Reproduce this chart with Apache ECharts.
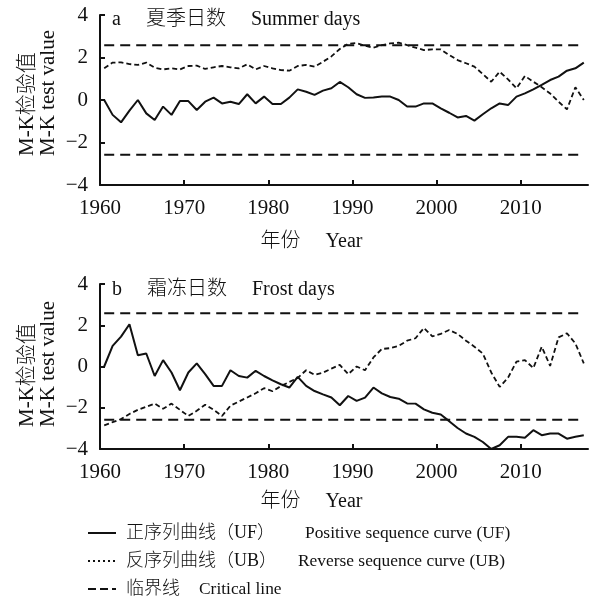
<!DOCTYPE html>
<html><head><meta charset="utf-8">
<script src="https://cdn.jsdelivr.net/npm/echarts@6/dist/echarts.min.js"></script>
<style>html,body{margin:0;padding:0;background:#fff}#c{width:609px;height:607px}</style>
</head><body><div id="c"></div>
<script>
const years = [1960,1961,1962,1963,1964,1965,1966,1967,1968,1969,
  1970,1971,1972,1973,1974,1975,1976,1977,1978,1979,
  1980,1981,1982,1983,1984,1985,1986,1987,1988,1989,
  1990,1991,1992,1993,1994,1995,1996,1997,1998,1999,
  2000,2001,2002,2003,2004,2005,2006,2007,2008,2009,
  2010,2011,2012,2013,2014,2015,2016,2017];
const summerUF = [0,-0.7,-1.05,-0.5,0,-0.63,-0.94,-0.31,-0.7,-0.05,
  -0.05,-0.47,-0.08,0.11,-0.16,-0.08,-0.19,0.27,-0.16,0.16,
  -0.19,-0.19,0.11,0.5,0.39,0.24,0.44,0.55,0.85,0.6,
  0.27,0.1,0.12,0.16,0.16,0,-0.31,-0.31,-0.16,-0.16,
  -0.39,-0.6,-0.82,-0.75,-0.97,-0.67,-0.39,-0.16,-0.24,0.16,
  0.31,0.5,0.71,0.94,1.1,1.38,1.49,1.76];
const summerUB = [1.49,1.76,1.77,1.69,1.65,1.76,1.52,1.44,1.49,1.44,
  1.6,1.62,1.46,1.54,1.6,1.54,1.49,1.68,1.44,1.6,
  1.49,1.41,1.38,1.6,1.65,1.57,1.8,2.05,2.4,2.65,
  2.68,2.55,2.46,2.58,2.66,2.7,2.58,2.46,2.35,2.38,
  2.38,2.12,1.88,1.73,1.57,1.22,0.86,1.33,0.97,0.55,
  1.13,0.86,0.6,0.31,-0.08,-0.44,0.6,0];
const frostUF = [0,1.0,1.45,2.05,0.55,0.63,-0.46,0.31,-0.29,-1.15,
  -0.29,0.15,-0.37,-0.94,-0.94,-0.18,-0.46,-0.54,-0.21,-0.46,
  -0.67,-0.86,-1.02,-0.5,-0.94,-1.19,-1.35,-1.5,-1.88,-1.43,
  -1.67,-1.51,-1.02,-1.3,-1.48,-1.56,-1.79,-1.8,-2.08,-2.24,
  -2.33,-2.65,-2.98,-3.25,-3.41,-3.66,-4.0,-3.82,-3.41,-3.41,
  -3.46,-3.09,-3.33,-3.25,-3.25,-3.5,-3.41,-3.33];
const frostUB = [-2.85,-2.7,-2.55,-2.3,-2.1,-1.95,-1.8,-2.05,-1.8,-2.1,
  -2.4,-2.15,-1.85,-2.1,-2.4,-1.9,-1.7,-1.5,-1.3,-1.05,
  -1.2,-0.95,-0.75,-0.55,-0.18,-0.4,-0.3,-0.1,0.08,-0.37,
  0,-0.18,0.44,0.85,0.89,1.0,1.25,1.37,1.87,1.46,
  1.58,1.77,1.58,1.25,0.96,0.63,-0.29,-0.99,-0.54,0.24,
  0.31,-0.08,0.96,0.03,1.41,1.61,1.12,0.15];
const critical = [2.58, -2.58];
const panelTitles = ['a\u3000 夏季日数\u3000 Summer days', 'b\u3000 霜冻日数\u3000 Frost days'];
const xName = '年份\u3000 Year';
const yNames = ['M-K检验值', 'M-K test value'];
const legendZh = {UF: '正序列曲线（UF）', UB: '反序列曲线（UB）', CL: '临界线'};
const legendEn = {UF: 'Positive sequence curve (UF)', UB: 'Reverse sequence curve (UB)', CL: 'Critical line'};
// each annual value is plotted at the middle of its year
const MID_YEAR = 0.5;

const FF = '"Liberation Serif", "Noto Sans CJK SC", serif';
const BLACK = '#111';
const grids = [
  {left: 100, top: 15, width: 488, height: 170},
  {left: 100, top: 284, width: 488, height: 165}
];
function xAxis(i, gap) {
  return {
    type: 'value', gridIndex: i, min: 1960, max: 2018, interval: 10,
    axisLine: {show: true, onZero: false, lineStyle: {color: BLACK, width: 2}},
    axisTick: {show: true, inside: true, length: 5, lineStyle: {color: BLACK, width: 2}},
    axisLabel: {color: BLACK, fontSize: 21, fontFamily: FF, margin: 13, showMaxLabel: false,
      formatter: v => String(v)},
    splitLine: {show: false},
    name: xName, nameLocation: 'middle', nameGap: gap,
    nameTextStyle: {color: BLACK, fontSize: 20, fontWeight: 300, fontFamily: FF, padding: [0, 65, 0, 0]}
  };
}
function yAxis(i) {
  return {
    type: 'value', gridIndex: i, min: -4, max: 4, interval: 2,
    axisLine: {show: true, onZero: false, lineStyle: {color: BLACK, width: 2}},
    axisTick: {show: true, inside: true, length: 5, lineStyle: {color: BLACK, width: 2}},
    axisLabel: {color: BLACK, fontSize: 21, fontFamily: FF, margin: 12,
      formatter: v => String(v).replace('-', '\u2212')},
    splitLine: {show: false}
  };
}
function pairs(vals) { return years.map((y, k) => [y + MID_YEAR, vals[k]]); }
function lineSeries(name, i, vals, type, width) {
  return {
    name: name, type: 'line', xAxisIndex: i, yAxisIndex: i, data: pairs(vals),
    symbol: 'none', silent: true, animation: false,
    lineStyle: {color: BLACK, width: width, type: type}
  };
}
function critSeries(i, c) {
  return {
    name: 'CL', type: 'line', xAxisIndex: i, yAxisIndex: i,
    data: [[years[0] + MID_YEAR, c], [years[years.length - 1] + MID_YEAR, c]],
    symbol: 'none', silent: true, animation: false,
    lineStyle: {color: BLACK, width: 2, type: [10, 6]}
  };
}
const series = [];
[[summerUF, summerUB], [frostUF, frostUB]].forEach((d, i) => {
  series.push(critSeries(i, critical[0]));
  series.push(critSeries(i, critical[1]));
  series.push(lineSeries('UB', i, d[1], [5, 3], 1.8));
  series.push(lineSeries('UF', i, d[0], 'solid', 2));
});

const graphic = [];
[[21, 156], [291, 427]].forEach((p, i) => {
  graphic.push({type: 'text', left: 112, top: p[0] - 11,
    style: {text: panelTitles[i], font: '300 20px ' + FF, fill: BLACK}});
  graphic.push({type: 'text', x: 27, y: p[1], rotation: Math.PI / 2,
    style: {text: yNames[0], font: '300 21px ' + FF, fill: BLACK, align: 'left', verticalAlign: 'middle'}});
  graphic.push({type: 'text', x: 48, y: p[1], rotation: Math.PI / 2,
    style: {text: yNames[1], font: '300 21px ' + FF, fill: BLACK, align: 'left', verticalAlign: 'middle'}});
});

const zhBase = {fontSize: 18, fontWeight: 300, fontFamily: FF, color: BLACK, padding: [0, 0, 0, 5]};
const chart = echarts.init(document.getElementById('c'), null, {renderer: 'canvas'});
chart.setOption({
  animation: false,
  backgroundColor: '#fff',
  grid: grids,
  xAxis: [xAxis(0, 47), xAxis(1, 43)],
  yAxis: [yAxis(0), yAxis(1)],
  series: series,
  legend: {
    orient: 'vertical', left: 87, top: 524, padding: 0,
    itemWidth: 28, itemHeight: 18, itemGap: 10,
    selectedMode: false,
    itemStyle: {opacity: 0},
    textStyle: {
      color: BLACK, fontSize: 18, fontWeight: 300, fontFamily: FF,
      rich: {
        zUF: Object.assign({width: 179}, zhBase),
        zUB: Object.assign({width: 172}, zhBase),
        zCL: Object.assign({width: 73}, zhBase),
        en: {fontSize: 17.4, fontFamily: FF, color: BLACK}
      }
    },
    formatter: n => '{z' + n + '|' + legendZh[n] + '}{en|' + legendEn[n] + '}',
    data: [
      {name: 'UF'},
      {name: 'UB', lineStyle: {type: [2, 3], width: 2}},
      {name: 'CL', lineStyle: {type: [8, 4], width: 2}}
    ]
  },
  graphic: graphic
});
</script></body></html>
